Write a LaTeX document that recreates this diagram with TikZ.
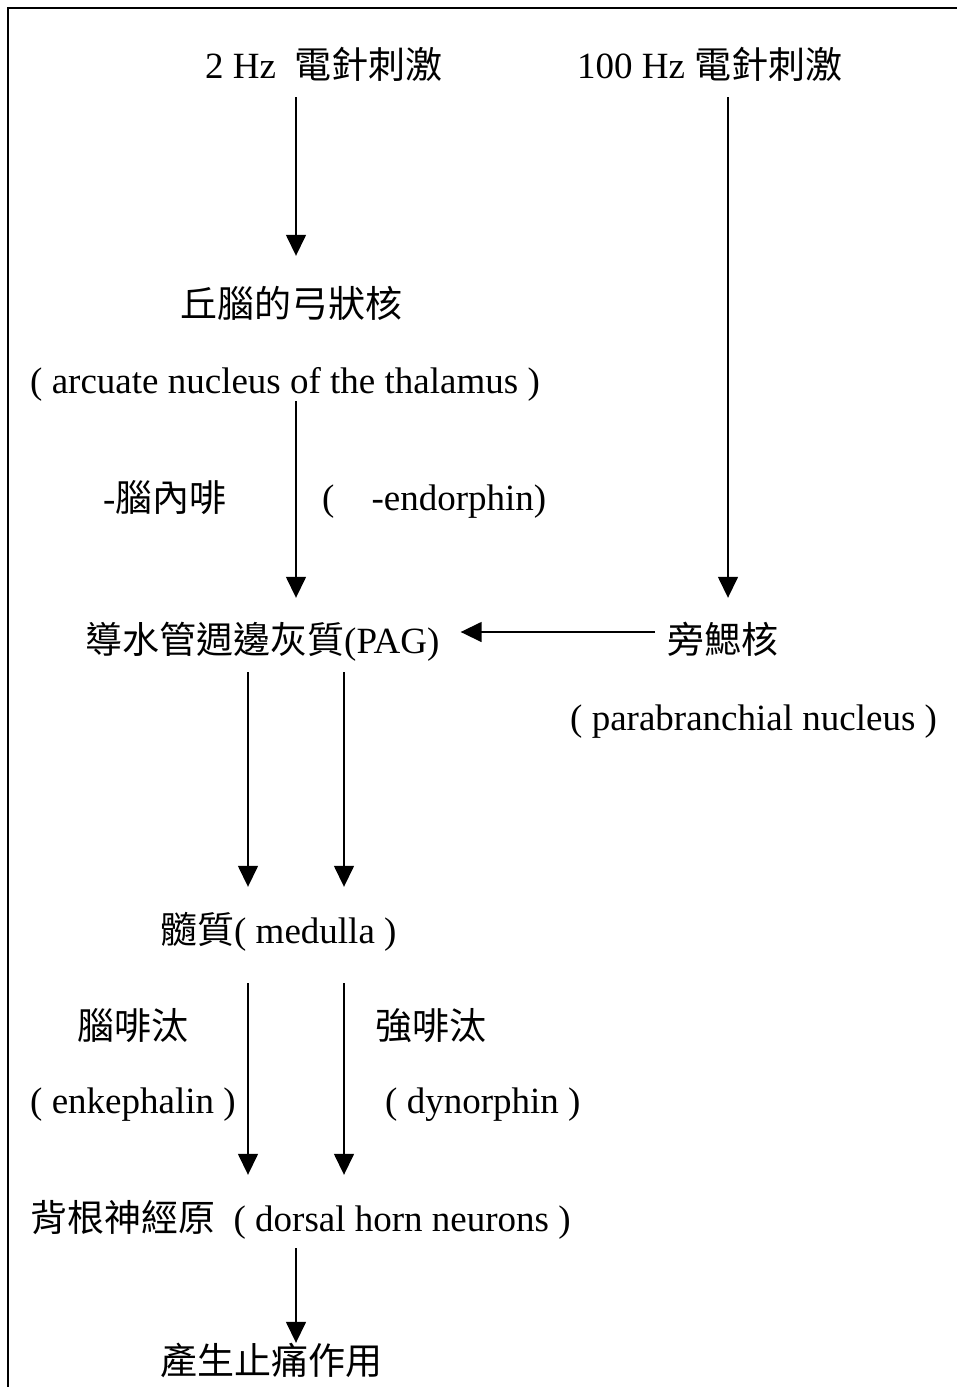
\documentclass[tikz,border=0pt]{standalone}
\usepackage{fontspec}
\setmainfont{Liberation Serif}
\newfontfamily\cjkfont{Noto Sans CJK TC}
\usetikzlibrary{arrows.meta}
\newcommand{\zh}[1]{{\cjkfont #1}}

\begin{document}
\begin{tikzpicture}[%%
  x=1pt,y=-1pt,
  lineStyle/.style={line width=1.5pt,-{Triangle[width=20pt,length=21pt]}},
  textStyle/.style={anchor=base west,inner sep=0pt,text height=26pt,
    text depth=8pt,font=\fontsize{37}{44}\selectfont},
  frameStyle/.style={line width=2pt}
]
%%
%% Page and open frame.
\useasboundingbox (0,0) rectangle (957,1387);
\draw[frameStyle] (8,1387) -- (8,8) -- (957,8);
%% Columns of the arrows.
\coordinate (colA) at (296,0);
\coordinate (colB) at (728,0);
\coordinate (colL) at (248,0);
\coordinate (colR) at (344,0);
%%
%% Stimulation.
\node[textStyle] (hzLow) at (205,78) {2 Hz\ \ \zh{電針刺激}};
\node[textStyle] (hzHigh) at (577,78) {100 Hz \zh{電針刺激}};
%% Arcuate nucleus.
\node[textStyle] (arcZh) at (180,317) {\zh{丘腦的弓狀核}};
\node[textStyle] (arcEn) at (30,393) {( arcuate nucleus of the thalamus )};
\node[textStyle] (endZh) at (103,511) {-\zh{腦內啡}};
\node[textStyle] (endEn) at (322,510) {(\hspace*{1em}-endorphin)};
%% PAG and parabranchial nucleus.
\node[textStyle] (pag) at (85,653) {\zh{導水管週邊灰質}(PAG)};
\node[textStyle] (pb) at (667,653) {\zh{旁鰓核}};
\node[textStyle] (pbEn) at (570,730) {( parabranchial nucleus )};
%% Medulla.
\node[textStyle] (med) at (160,943) {\zh{髓質}( medulla )};
\node[textStyle] (enkZh) at (77,1039) {\zh{腦啡汰}};
\node[textStyle] (dynZh) at (375,1039) {\zh{強啡汰}};
\node[textStyle] (enkEn) at (30,1113) {( enkephalin )};
\node[textStyle] (dynEn) at (385,1113) {( dynorphin )};
%% Dorsal horn and effect.
\node[textStyle] (dorsal) at (30,1231) {\zh{背根神經原}\ \ ( dorsal horn neurons )};
\node[textStyle] (effect) at (160,1374) {\zh{產生止痛作用}};
%%
%% Arrows.
\draw[lineStyle,shorten <=11pt,shorten >=35pt] (colA |- hzLow.south) -- (colA |- arcZh.north);
\draw[lineStyle,shorten >=29pt] (colA |- arcEn.south) -- (colA |- pag.north);
\draw[lineStyle,shorten <=11pt,shorten >=29pt] (colB |- hzHigh.south) -- (colB |- pb.north);
\draw[lineStyle,shorten <=12pt,shorten >=21pt] ([yshift=12pt]pb.west) -- ([yshift=12pt]pag.east);
\draw[lineStyle,shorten <=11pt,shorten >=30pt] (colL |- pag.south) -- (colL |- med.north);
\draw[lineStyle,shorten <=11pt,shorten >=30pt] (colR |- pag.south) -- (colR |- med.north);
\draw[lineStyle,shorten <=32pt,shorten >=30pt] (colL |- med.south) -- (colL |- dorsal.north);
\draw[lineStyle,shorten <=32pt,shorten >=30pt] (colR |- med.south) -- (colR |- dorsal.north);
\draw[lineStyle,shorten <=9pt,shorten >=5pt] (colA |- dorsal.south) -- (colA |- effect.north);
\end{tikzpicture}
\end{document}
